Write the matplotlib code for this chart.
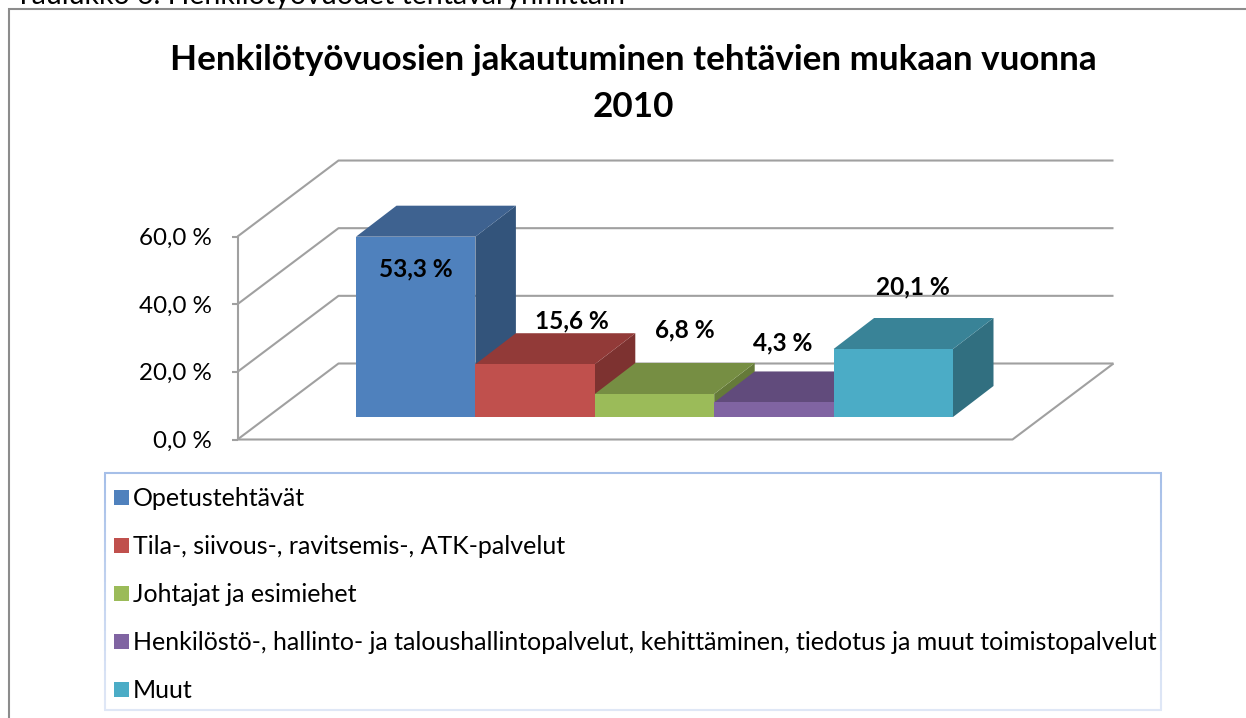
import matplotlib
matplotlib.use("Agg")
import matplotlib.pyplot as plt
from matplotlib.colors import to_rgb
from matplotlib.patches import Polygon, Rectangle

# Chart data
CATEGORIES = [
    "Opetustehtävät",
    "Tila-, siivous-, ravitsemis-, ATK-palvelut",
    "Johtajat ja esimiehet",
    "Henkilöstö-, hallinto- ja taloushallintopalvelut, kehittäminen, tiedotus ja muut toimistopalvelut",
    "Muut",
]
VALUES = [53.3, 15.6, 6.8, 4.3, 20.1]
VALUE_LABELS = ["53,3 %", "15,6 %", "6,8 %", "4,3 %", "20,1 %"]
TICKS = [0, 20, 40, 60]
TICK_LABELS = ["0,0 %", "20,0 %", "40,0 %", "60,0 %"]

FRONT_COLORS = ["#4f81bd", "#c0504d", "#9bbb59", "#8064a2", "#4bacc6"]
TOP_COLORS = ["#3e6290", "#923a38", "#768e43", "#614b7c", "#398397"]
SIDE_COLORS = ["#33547b", "#7d3230", "#657a39", "#54406a", "#316f80"]

TITLE = "Henkilötyövuosien jakautuminen tehtävien mukaan vuonna\n2010"
CAPTION = "Taulukko 6. Henkilötyövuodet tehtäväryhmittäin"

# Page geometry, in pixels from the top left corner
WIDTH, HEIGHT = 1246, 718
FONT = "Lato"
GRID = "#a0a0a0"

# Oblique 3D frame: origin of the front floor edge, scale and depth vector
AXIS_X, AXIS_Y = 237.5, 439.5
PX_PER_PCT = 3.383
FLOOR_W = 775
DEPTH_DX, DEPTH_DY = 101, 76

# Bars sit inside the floor
BAR_X0, BAR_BASE = 356, 417
BAR_W = 119.4
BAR_DX, BAR_DY = 40.5, 31

# Where the value labels sit
LABEL_X = [416, 572, 685, 783, 913]
LABEL_Y = [268.5, 321, 329.5, 342.5, 286.5]


def y_of(value):
    return value * PX_PER_PCT


def draw_frame(ax):
    """
    Walls, floor and the value axis.
    """
    line = dict(color=GRID, lw=1.5, solid_capstyle="butt", zorder=1)
    for tick, label in zip(TICKS, TICK_LABELS):
        y = AXIS_Y - y_of(tick)
        ax.plot([AXIS_X, AXIS_X + DEPTH_DX, AXIS_X + DEPTH_DX + FLOOR_W],
                [y, y - DEPTH_DY, y - DEPTH_DY], **line)
        ax.plot([AXIS_X - 6, AXIS_X], [y, y], **line)
        ax.text(AXIS_X - 26, y + 2, label, ha="right", va="center", fontsize=17.4,
                family=FONT, color="black")
    ax.plot([AXIS_X, AXIS_X], [AXIS_Y, AXIS_Y - y_of(TICKS[-1])], **line)
    back_x = AXIS_X + DEPTH_DX
    ax.plot([AXIS_X, AXIS_X + FLOOR_W, back_x + FLOOR_W],
            [AXIS_Y, AXIS_Y, AXIS_Y - DEPTH_DY], **line)


def draw_bars(ax):
    """
    Draw each bar as front, top and side faces with its label.
    """
    for i, value in enumerate(VALUES):
        left = BAR_X0 + i * BAR_W
        right = left + BAR_W
        top = BAR_BASE - y_of(value)
        z = 3 + i * 0.1
        ax.add_patch(Polygon([(right, BAR_BASE), (right + BAR_DX, BAR_BASE - BAR_DY),
                              (right + BAR_DX, top - BAR_DY), (right, top)],
                             closed=True, fc=SIDE_COLORS[i], ec="none", zorder=z))
        ax.add_patch(Polygon([(left, top), (left + BAR_DX, top - BAR_DY),
                              (right + BAR_DX, top - BAR_DY), (right, top)],
                             closed=True, fc=TOP_COLORS[i], ec="none", zorder=z))
        ax.add_patch(Rectangle((left, top), BAR_W, BAR_BASE - top,
                               fc=FRONT_COLORS[i], ec="none", zorder=z))
        ax.text(LABEL_X[i], LABEL_Y[i], VALUE_LABELS[i], ha="center", va="center",
                fontsize=17.6, fontweight="bold", family=FONT, color="black", zorder=10)


def draw_legend(ax):
    """
    Boxed legend with one entry per row, the border fades towards the bottom.
    """
    x0, x1, y0, y1 = 105, 1161, 473, 710
    ax.add_patch(Rectangle((x0, y0), x1 - x0, y1 - y0, fc="white", ec="none", zorder=2))
    c_top = to_rgb("#a6bfe8")
    c_bot = to_rgb("#dfe7f6")
    steps = 24
    for s in range(steps):
        t = s / (steps - 1)
        color = [a + (b - a) * t for a, b in zip(c_top, c_bot)]
        ya = y0 + (y1 - y0) * s / steps
        yb = y0 + (y1 - y0) * (s + 1) / steps
        for x in (x0, x1):
            ax.plot([x, x], [ya, yb], color=color, lw=1.5, solid_capstyle="butt", zorder=2.5)
    ax.plot([x0 - 1, x1 + 1], [y0, y0], color=c_top, lw=1.5, solid_capstyle="butt", zorder=2.5)
    ax.plot([x0 - 1, x1 + 1], [y1, y1], color=c_bot, lw=1.5, solid_capstyle="butt", zorder=2.5)

    for i, name in enumerate(CATEGORIES):
        y = 497.5 + i * 48
        ax.add_patch(Rectangle((114, y - 7.5), 15, 15, fc=FRONT_COLORS[i], ec="none", zorder=3))
        ax.text(133, y + 1, name, ha="left", va="center", fontsize=18.02, family=FONT,
                color="black", zorder=3)


def main():
    fig = plt.figure(figsize=(WIDTH / 100, HEIGHT / 100), dpi=100)
    ax = fig.add_axes([0, 0, 1, 1])
    ax.set_xlim(0, WIDTH)
    ax.set_ylim(HEIGHT, 0)
    ax.axis("off")

    # Chart area runs off the page at the right and the bottom
    ax.add_patch(Rectangle((9, 9), WIDTH, HEIGHT, fc="white", ec="#8c8c8c", lw=1.5, zorder=0))
    ax.text(15, 4, CAPTION, ha="left", va="baseline", fontsize=20.5, family=FONT, color="black")
    ax.text(633, 83.5, TITLE, ha="center", va="center", fontsize=25.2, fontweight="bold",
            family=FONT, color="black", linespacing=1.6)

    draw_frame(ax)
    draw_bars(ax)
    draw_legend(ax)

    fig.savefig("out.png", dpi=100)
    plt.close(fig)


if __name__ == "__main__":
    main()
